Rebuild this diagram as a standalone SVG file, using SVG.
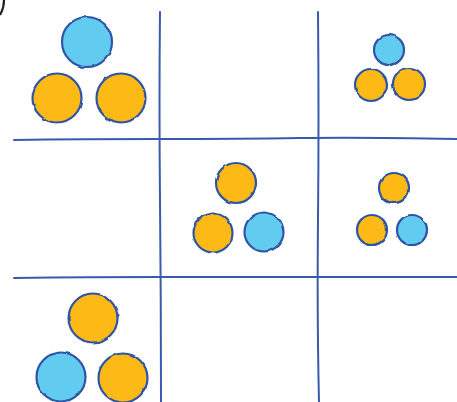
<svg xmlns="http://www.w3.org/2000/svg" width="457" height="402" viewBox="0 0 457 402">
<defs>
<filter id="rough" x="-10%" y="-10%" width="120%" height="120%">
<feTurbulence type="fractalNoise" baseFrequency="0.08" numOctaves="2" seed="3"/>
<feDisplacementMap in="SourceGraphic" scale="2.5" xChannelSelector="R" yChannelSelector="G"/>
</filter>
</defs>
<style>
.b{fill:#62CCF0;stroke:#2F55A5;stroke-width:2.2}
.o{fill:#FDB913;stroke:#2F55A5;stroke-width:2.2}
.g{fill:none;stroke:#3A5BAB;stroke-width:2;stroke-linecap:round}
.n{filter:url(#rough)}
</style>
<rect width="457" height="402" fill="#fff"/>
<path d="M4,0 Q4,8 0,15" fill="none" stroke="#222" stroke-width="2.2"/>
<g id="grid">
<path class="g" d="M14,140 Q80,139 160,139 T300,138 T457,139"/>
<path class="g" d="M14,278 Q90,277 160,277 T320,277 T457,277"/>
<path class="g" d="M160,12 Q159,100 160,200 T161,402"/>
<path class="g" d="M318,12 Q319,120 318,220 T319,402"/>
</g>
<g id="cell-1-1" class="n">
<circle class="b" cx="87" cy="42" r="25"/>
<circle class="o" cx="57" cy="98" r="24.5"/>
<circle class="o" cx="121" cy="98" r="24.5"/>
</g>
<g id="cell-1-3" class="n">
<circle class="b" cx="389" cy="50" r="15"/>
<circle class="o" cx="371" cy="85" r="16"/>
<circle class="o" cx="409" cy="84" r="16"/>
</g>
<g id="cell-2-2" class="n">
<circle class="o" cx="236" cy="183" r="20"/>
<circle class="o" cx="213" cy="233" r="19.5"/>
<circle class="b" cx="264" cy="232" r="19.5"/>
</g>
<g id="cell-2-3" class="n">
<circle class="o" cx="394" cy="188" r="15"/>
<circle class="o" cx="372" cy="230" r="15"/>
<circle class="b" cx="412" cy="230" r="15"/>
</g>
<g id="cell-3-1" class="n">
<circle class="o" cx="93" cy="318" r="24.5"/>
<circle class="b" cx="61" cy="377" r="24.5"/>
<circle class="o" cx="123" cy="378" r="24.5"/>
</g>
</svg>
